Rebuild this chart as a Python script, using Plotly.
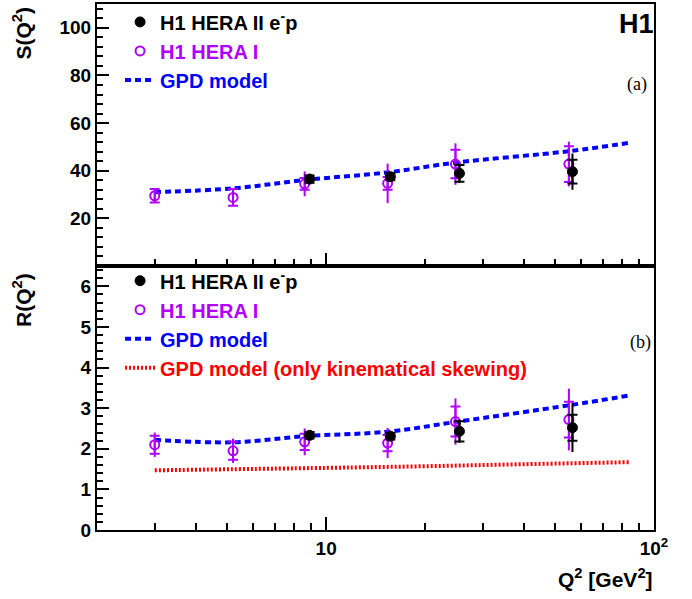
import numpy as np
import plotly.graph_objects as go

# ---------------- data ----------------
q2_hera1 = [3.0, 5.2, 8.6, 15.4, 24.8, 55.0]
q2_hera2 = [8.9, 15.7, 25.5, 56.4]

S_hera1 = [29.5, 28.8, 34.5, 34.7, 42.8, 42.8]
S_hera1_tot = [2.8, 3.5, 5.2, 8.3, 8.7, 9.4]
S_hera1_stat = [2.8, 3.5, 2.5, 2.7, 6.0, 7.5]
S_hera2 = [36.5, 37.5, 38.9, 39.6]
S_hera2_tot = [1.5, 1.5, 4.0, 7.6]
S_hera2_stat = [1.5, 1.5, 3.5, 5.0]

R_hera1 = [2.10, 1.95, 2.17, 2.14, 2.67, 2.72]
R_hera1_tot = [0.30, 0.30, 0.33, 0.37, 0.57, 0.76]
R_hera1_stat = [0.22, 0.22, 0.20, 0.20, 0.37, 0.44]
R_hera2 = [2.33, 2.31, 2.43, 2.52]
R_hera2_tot = [0.08, 0.08, 0.28, 0.60]
R_hera2_stat = [0.08, 0.08, 0.25, 0.32]

q2_model = [3.0, 5.2, 8.6, 15.4, 24.8, 55.0, 84.0]
S_model = [31.0, 32.6, 36.1, 39.3, 43.4, 48.2, 51.7]
R_model = [2.22, 2.16, 2.31, 2.42, 2.66, 3.07, 3.31]

q2_skew = [3.0, 10.0, 20.0, 40.0, 84.0]
R_skew = [1.47, 1.53, 1.57, 1.62, 1.67]

x_major = [10, 100]
x_major_text = ["10", "10<sup>2</sup>"]
x_minor = [3, 4, 5, 6, 7, 8, 9, 20, 30, 40, 50, 60, 70, 80, 90]

# ---------------- style ----------------
PURPLE = "#b000ff"
FONT = "Liberation Sans"

fig = go.Figure()


def add_points(x, y, tot, stat, color, symbol, name, xa, ya, leg, rank, size, lw):
    # stat error with crossbars
    fig.add_trace(go.Scatter(
        x=x, y=y, mode="markers", xaxis=xa, yaxis=ya,
        marker=dict(size=1, color="rgba(0,0,0,0)"),
        error_y=dict(type="data", array=stat, width=5, thickness=2, color=color),
        showlegend=False, hoverinfo="skip"))
    # total error + marker
    fig.add_trace(go.Scatter(
        x=x, y=y, mode="markers", xaxis=xa, yaxis=ya, name=name,
        legend=leg, legendrank=rank,
        marker=dict(size=size, color=color, symbol=symbol,
                    line=dict(width=lw, color=color)),
        error_y=dict(type="data", array=tot, width=0, thickness=2, color=color)))


# top panel (S)
fig.add_trace(go.Scatter(
    x=q2_model, y=S_model, mode="lines", xaxis="x2", yaxis="y2",
    name="<span style='color:blue'>GPD model</span>", legend="legend", legendrank=3,
    line=dict(color="blue", width=4, dash="6px,4px", shape="spline")))
add_points(q2_hera1, S_hera1, S_hera1_tot, S_hera1_stat, PURPLE, "circle-open",
           "<span style='color:%s'>H1 HERA I</span>" % PURPLE, "x2", "y2", "legend", 2, 9, 2)
add_points(q2_hera2, S_hera2, S_hera2_tot, S_hera2_stat, "black", "circle",
           "H1 HERA II e<sup>-</sup>p", "x2", "y2", "legend", 1, 10, 1)

# bottom panel (R)
fig.add_trace(go.Scatter(
    x=q2_model, y=R_model, mode="lines", xaxis="x", yaxis="y",
    name="<span style='color:blue'>GPD model</span>", legend="legend2", legendrank=3,
    line=dict(color="blue", width=4, dash="6px,4px", shape="spline")))
fig.add_trace(go.Scatter(
    x=q2_skew, y=R_skew, mode="lines", xaxis="x", yaxis="y",
    name="<span style='color:red'>GPD model (only kinematical skewing)</span>",
    legend="legend2", legendrank=4,
    line=dict(color="red", width=4, dash="2px,2px", shape="spline")))
add_points(q2_hera1, R_hera1, R_hera1_tot, R_hera1_stat, PURPLE, "circle-open",
           "<span style='color:%s'>H1 HERA I</span>" % PURPLE, "x", "y", "legend2", 2, 9, 2)
add_points(q2_hera2, R_hera2, R_hera2_tot, R_hera2_stat, "black", "circle",
           "H1 HERA II e<sup>-</sup>p", "x", "y", "legend2", 1, 10, 1)

split = 265.0 / 528.0

xcommon = dict(type="log", range=[np.log10(2), 2], showline=True, mirror=True,
               linecolor="black", linewidth=2, ticks="inside", ticklen=13, tickwidth=1.5,
               tickcolor="black", tickmode="array", tickvals=x_major,
               minor=dict(tickmode="array", tickvals=x_minor, ticks="inside", ticklen=7,
                          tickwidth=1.5, tickcolor="black", showgrid=False),
               showgrid=False, zeroline=False)
ycommon = dict(showline=True, mirror=True, linecolor="black", linewidth=2,
               ticks="inside", ticklen=12, tickwidth=1.5, tickcolor="black",
               showgrid=False, zeroline=False,
               tickfont=dict(family=FONT, size=19, color="black", weight="bold"))

legfont = dict(family=FONT, size=20, color="black", weight="bold")

fig.update_layout(
    width=692, height=599,
    margin=dict(l=97, r=38, t=2, b=69),
    paper_bgcolor="white", plot_bgcolor="white",
    xaxis=dict(**xcommon, anchor="y", ticktext=x_major_text,
               tickfont=dict(family=FONT, size=19, color="black", weight="bold")),
    xaxis2=dict(**xcommon, anchor="y2", matches="x", showticklabels=False),
    yaxis=dict(**ycommon, domain=[0, split], range=[0, 6.5],
               tickvals=[0, 1, 2, 3, 4, 5, 6],
               minor=dict(dtick=0.2, ticks="inside", ticklen=6, tickwidth=1.5,
                          tickcolor="black", showgrid=False)),
    yaxis2=dict(**ycommon, domain=[split, 1], range=[0, 110],
                tickvals=[20, 40, 60, 80, 100],
                minor=dict(dtick=4, ticks="inside", ticklen=6, tickwidth=1.5,
                           tickcolor="black", showgrid=False)),
    legend=dict(x=0.0414, y=1.003, xanchor="left", yanchor="top",
                bgcolor="rgba(0,0,0,0)", tracegroupgap=0, font=legfont),
    legend2=dict(x=0.0414, y=0.511, xanchor="left", yanchor="top",
                 bgcolor="rgba(0,0,0,0)", tracegroupgap=0, font=legfont),
    showlegend=True,
)

annots = [
    dict(text="<b>H1</b>", x=1.0036, y=0.962, xanchor="right", yanchor="middle",
         font=dict(family=FONT, size=27, color="black")),
    dict(text="(a)", x=0.9695, y=0.8466, xanchor="center", yanchor="middle",
         font=dict(family="Liberation Serif", size=18, color="black")),
    dict(text="(b)", x=0.975, y=0.356, xanchor="center", yanchor="middle",
         font=dict(family="Liberation Serif", size=18, color="black")),
    dict(text="<b>S(Q<sup>2</sup>)</b>", x=-0.1347, y=1.0, xanchor="center", yanchor="top",
         textangle=-90, font=dict(family=FONT, size=21, color="black")),
    dict(text="<b>R(Q<sup>2</sup>)</b>", x=-0.1347, y=0.4924, xanchor="center", yanchor="top",
         textangle=-90, font=dict(family=FONT, size=21, color="black")),
    dict(text="<b>Q<sup>2</sup> [GeV<sup>2</sup>]</b>", x=1.0018, y=-0.0909,
         xanchor="right", yanchor="middle", font=dict(family=FONT, size=21, color="black")),
]
for a in annots:
    fig.add_annotation(xref="paper", yref="paper", showarrow=False, **a)

fig.write_html("out.html")
